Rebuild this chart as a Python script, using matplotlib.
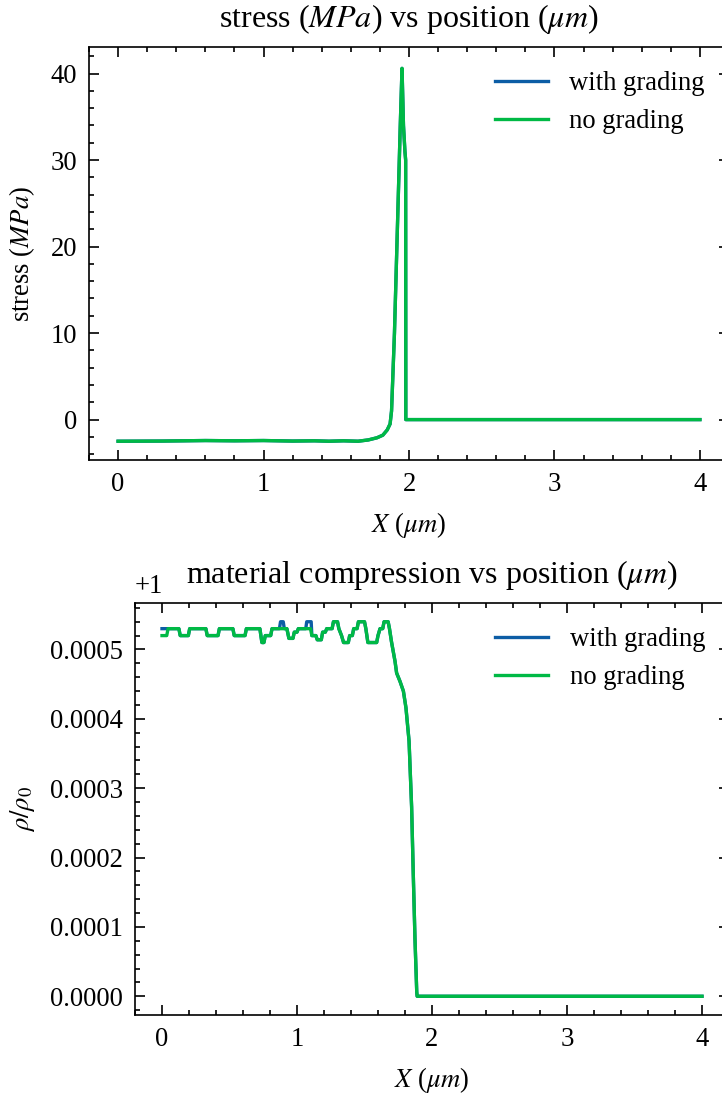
import matplotlib
matplotlib.use("Agg")
import matplotlib.pyplot as plt

# science-like style
plt.rcParams.update({
    "font.family": ["Liberation Serif", "DejaVu Serif"],
    "mathtext.fontset": "stix",
    "font.size": 8,
    "axes.linewidth": 0.5,
    "lines.linewidth": 1.0,
    "xtick.direction": "in",
    "ytick.direction": "in",
    "xtick.top": True,
    "ytick.right": True,
    "xtick.minor.visible": True,
    "ytick.minor.visible": True,
    "xtick.major.size": 3,
    "xtick.minor.size": 1.5,
    "ytick.major.size": 3,
    "ytick.minor.size": 1.5,
    "xtick.major.width": 0.5,
    "xtick.minor.width": 0.5,
    "ytick.major.width": 0.5,
    "ytick.minor.width": 0.5,
    "legend.frameon": False,
})

BLUE = "#0C5DA5"
GREEN = "#00B945"

# stress vs position (MPa), both runs overlap
x_stress = [0.0, 0.3, 0.6, 0.8, 1.0, 1.2, 1.35, 1.45, 1.55, 1.65, 1.72, 1.78,
            1.82, 1.85, 1.87, 1.88, 1.90, 1.92, 1.94, 1.952, 1.962, 1.972,
            1.977, 1.978, 4.0]
stress_grading = [-2.5, -2.48, -2.42, -2.45, -2.42, -2.48, -2.45, -2.5, -2.45,
                  -2.5, -2.35, -2.1, -1.8, -1.2, -0.5, 1.0, 10.0, 22.0, 34.0,
                  40.6, 34.0, 31.0, 30.0, 0.0, 0.0]
stress_nograding = [-2.5, -2.48, -2.42, -2.45, -2.42, -2.48, -2.45, -2.5, -2.45,
                    -2.5, -2.35, -2.1, -1.8, -1.2, -0.5, 1.0, 10.0, 22.0, 34.0,
                    40.6, 34.0, 31.0, 30.0, 0.0, 0.0]

# density ratio rho/rho0
x_rho_nograding = [0.0, 0.035, 0.045, 0.125, 0.135, 0.195, 0.205, 0.325, 0.335,
                   0.415, 0.425, 0.525, 0.535, 0.615, 0.625, 0.725, 0.74, 0.755,
                   0.765, 0.805, 0.815, 0.925, 0.94, 0.97, 0.98, 1.0, 1.01, 1.10,
                   1.11, 1.14, 1.15, 1.18, 1.19, 1.21, 1.22, 1.26, 1.27, 1.30,
                   1.31, 1.33, 1.345, 1.38, 1.39, 1.41, 1.42, 1.445, 1.455, 1.50,
                   1.51, 1.525, 1.59, 1.60, 1.615, 1.635, 1.645, 1.675, 1.685,
                   1.70, 1.713, 1.726, 1.738, 1.763, 1.788, 1.807, 1.83, 1.849,
                   1.861, 1.874, 1.887, 1.89, 4.0]
rho_nograding = [1.00052, 1.00052, 1.00053, 1.00053, 1.00052, 1.00052, 1.00053,
                 1.00053, 1.00052, 1.00052, 1.00053, 1.00053, 1.00052, 1.00052,
                 1.00053, 1.00053, 1.00051, 1.00051, 1.00052, 1.00052, 1.00053,
                 1.00053, 1.000516, 1.000516, 1.000525, 1.000525, 1.00053,
                 1.00053, 1.00052, 1.00052, 1.000514, 1.000514, 1.000525,
                 1.000525, 1.00053, 1.00053, 1.00054, 1.00054, 1.00053, 1.00052,
                 1.00051, 1.00051, 1.00052, 1.00052, 1.00053, 1.00053, 1.00054,
                 1.00054, 1.00053, 1.00051, 1.00051, 1.00052, 1.00053, 1.00053,
                 1.00054, 1.00054, 1.00053, 1.000511, 1.000497, 1.000483,
                 1.000466, 1.000454, 1.00044, 1.000416, 1.000368, 1.000273,
                 1.000178, 1.000082, 1.000006, 1.0, 1.0]

x_rho_grading = [0.0, 0.125, 0.135, 0.195, 0.205, 0.325, 0.335, 0.415, 0.425,
                 0.525, 0.535, 0.615, 0.625, 0.725, 0.74, 0.755, 0.765, 0.805,
                 0.815, 0.87, 0.878, 0.898, 0.906, 0.925, 0.94, 0.97, 0.98, 1.0,
                 1.01, 1.065, 1.072, 1.105, 1.11, 1.14, 1.15, 1.18, 1.19, 1.21,
                 1.22, 1.26, 1.27, 1.30, 1.31, 1.33, 1.345, 1.38, 1.39, 1.41,
                 1.42, 1.445, 1.455, 1.50, 1.51, 1.525, 1.59, 1.60, 1.615,
                 1.635, 1.645, 1.675, 1.685, 1.70, 1.713, 1.726, 1.738, 1.763,
                 1.788, 1.807, 1.83, 1.849, 1.861, 1.874, 1.887, 1.89, 4.0]
rho_grading = [1.00053, 1.00053, 1.00052, 1.00052, 1.00053, 1.00053, 1.00052,
               1.00052, 1.00053, 1.00053, 1.00052, 1.00052, 1.00053, 1.00053,
               1.00051, 1.00051, 1.00052, 1.00052, 1.00053, 1.00053, 1.00054,
               1.00054, 1.00053, 1.00053, 1.000516, 1.000516, 1.000525,
               1.000525, 1.00053, 1.00053, 1.00054, 1.00054, 1.00052, 1.00052,
               1.000514, 1.000514, 1.000525, 1.000525, 1.00053, 1.00053,
               1.00054, 1.00054, 1.00053, 1.00052, 1.00051, 1.00051, 1.00052,
               1.00052, 1.00053, 1.00053, 1.00054, 1.00054, 1.00053, 1.00051,
               1.00051, 1.00052, 1.00053, 1.00053, 1.00054, 1.00054, 1.00053,
               1.000511, 1.000497, 1.000483, 1.000466, 1.000454, 1.00044,
               1.000416, 1.000368, 1.000273, 1.000178, 1.000082, 1.000006, 1.0,
               1.0]

W, H = 722, 1093
fig = plt.figure(figsize=(W / 240, H / 240), dpi=240)

# top panel
ax1 = fig.add_axes([89 / W, 1 - 460 / H, (729 - 89) / W, (460 - 47) / H])
ax1.plot(x_stress, stress_grading, color=BLUE, label="with grading")
ax1.plot(x_stress, stress_nograding, color=GREEN, label="no grading")
ax1.set_xlim(-0.2, 4.2)
ax1.set_ylim(-4.67, 43.07)
ax1.set_xticks([0, 1, 2, 3, 4])
ax1.set_title(r"stress ($MPa$) vs position ($\mu m$)")
ax1.set_xlabel(r"$X$ ($\mu m$)")
ax1.set_ylabel(r"stress ($MPa$)")
ax1.legend(loc="upper right")

# bottom panel
ax2 = fig.add_axes([135 / W, 1 - 1015 / H, (729 - 135) / W, (1015 - 603) / H])
ax2.plot(x_rho_grading, rho_grading, color=BLUE, label="with grading")
ax2.plot(x_rho_nograding, rho_nograding, color=GREEN, label="no grading")
ax2.set_xlim(-0.2, 4.2)
ax2.set_xticks([0, 1, 2, 3, 4])
ax2.set_title(r"material compression vs position ($\mu m$)")
ax2.set_xlabel(r"$X$ ($\mu m$)")
ax2.set_ylabel(r"$\rho/\rho_0$")
ax2.legend(loc="upper right")

fig.savefig("out.png", dpi=240)
